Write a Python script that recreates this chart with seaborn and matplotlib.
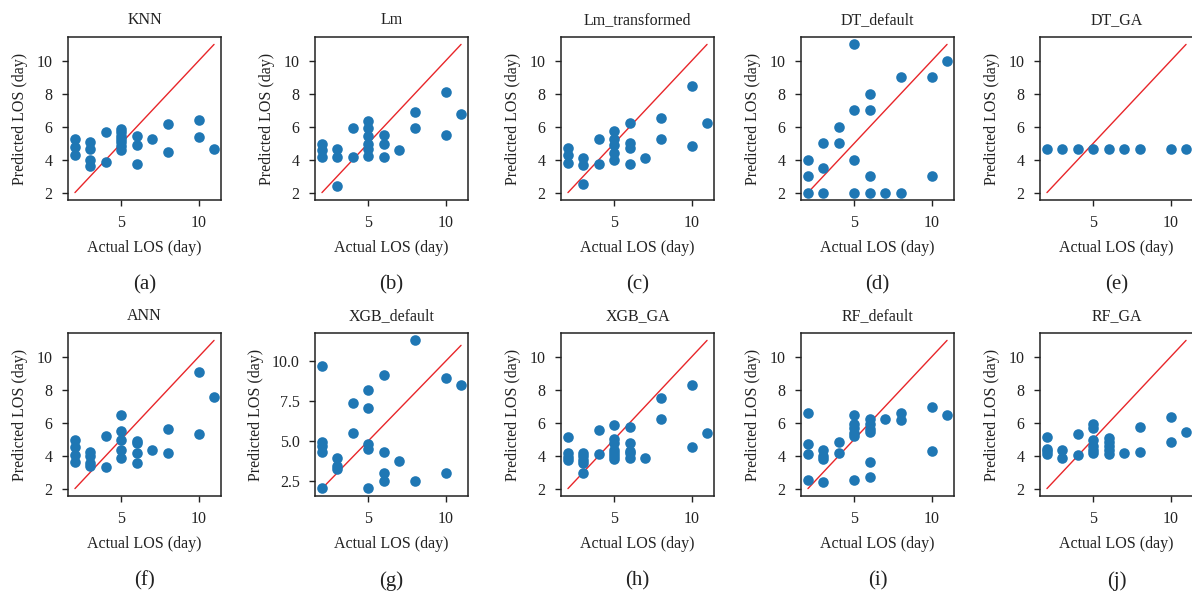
import matplotlib
matplotlib.use("Agg")
import matplotlib.pyplot as plt
import matplotlib.ticker as mticker
import seaborn as sns
import pandas as pd

# ---------------- data ----------------
knn_actual = [2, 2, 2, 3, 3, 3, 3, 4, 4, 5, 5, 5, 5, 5, 5, 5, 6, 6, 6, 7, 8, 8, 10, 10, 11]
knn_pred = [5.25, 4.75, 4.3, 5.1, 4.65, 4.0, 3.6, 5.65, 3.88, 5.85, 5.65, 5.45, 5.25, 5.05, 4.85, 4.6,
            5.43, 4.88, 3.73, 5.23, 6.15, 4.46, 6.4, 5.39, 4.62]

lm_actual = [2, 2, 2, 3, 3, 3, 4, 4, 5, 5, 5, 5, 5, 5, 6, 6, 6, 7, 8, 8, 10, 10, 11]
lm_pred = [4.98, 4.58, 4.16, 4.62, 4.16, 2.4, 5.93, 4.16, 6.37, 5.9, 5.43, 4.98, 4.62, 4.2,
           5.49, 4.96, 4.16, 4.58, 6.88, 5.9, 8.13, 5.47, 6.8]

lmt_actual = [2, 2, 2, 3, 3, 3, 4, 4, 5, 5, 5, 5, 5, 6, 6, 6, 6, 7, 8, 8, 10, 10, 11]
lmt_pred = [4.68, 4.26, 3.81, 4.12, 3.69, 2.5, 5.27, 3.71, 5.77, 5.23, 4.88, 4.42, 3.96,
            6.23, 5.02, 4.72, 3.71, 4.08, 6.5, 5.27, 8.45, 4.82, 6.23]

dtd_actual = [2, 2, 2, 3, 3, 3, 4, 4, 5, 5, 5, 5, 6, 6, 6, 6, 7, 8, 8, 10, 10, 11]
dtd_pred = [4, 3, 2, 5, 3.5, 2, 6, 5, 11, 7, 4, 2, 8, 7, 3, 2, 2, 9, 2, 9, 3, 10]

dtga_actual = [2, 3, 4, 5, 6, 7, 8, 10, 11]
dtga_pred = [4.65, 4.65, 4.65, 4.65, 4.65, 4.65, 4.65, 4.65, 4.65]

ann_actual = [2, 2, 2, 2, 3, 3, 3, 3, 4, 4, 5, 5, 5, 5, 5, 6, 6, 6, 6, 7, 8, 8, 10, 10, 11]
ann_pred = [4.98, 4.52, 4.07, 3.62, 4.21, 3.97, 3.56, 3.36, 5.18, 3.34, 6.46, 5.49, 4.98, 4.37, 3.85,
            4.92, 4.74, 4.17, 3.56, 4.35, 5.63, 4.19, 9.1, 5.29, 7.54]

xgbd_actual = [2, 2, 2, 2, 2, 3, 3, 3, 4, 4, 5, 5, 5, 5, 5, 6, 6, 6, 6, 7, 8, 8, 10, 10, 11]
xgbd_pred = [9.69, 4.9, 4.65, 4.27, 2.02, 3.92, 3.44, 3.23, 7.4, 5.52, 8.17, 7.04, 4.79, 4.48, 2.04,
             9.13, 4.27, 2.98, 2.5, 3.71, 11.31, 2.46, 8.94, 2.96, 8.5]

xgbga_actual = [2, 2, 2, 2, 3, 3, 3, 3, 3, 4, 4, 5, 5, 5, 5, 5, 5, 5, 6, 6, 6, 6, 6, 7, 8, 8, 10, 10, 11]
xgbga_pred = [5.12, 4.17, 3.91, 3.72, 4.17, 3.97, 3.72, 3.56, 2.95, 5.53, 4.11, 5.85, 5.02, 4.78, 4.37,
              4.17, 3.97, 3.81, 5.73, 4.78, 4.31, 4.17, 3.87, 3.85, 7.48, 6.2, 8.29, 4.52, 5.35]

rfd_actual = [2, 2, 2, 2, 3, 3, 3, 3, 4, 4, 5, 5, 5, 5, 5, 5, 6, 6, 6, 6, 6, 6, 7, 8, 8, 10, 10, 11]
rfd_pred = [6.6, 4.72, 4.11, 2.51, 4.37, 4.0, 3.8, 2.42, 4.84, 4.17, 6.5, 5.9, 5.66, 5.4, 5.2, 2.53,
            6.2, 5.94, 5.59, 5.45, 3.62, 2.69, 6.2, 6.62, 6.16, 6.96, 4.27, 6.5]

rfga_actual = [2, 2, 2, 2, 3, 3, 4, 4, 5, 5, 5, 5, 5, 5, 6, 6, 6, 6, 6, 7, 8, 8, 10, 10, 11]
rfga_pred = [5.12, 4.41, 4.27, 4.11, 4.33, 3.85, 5.33, 4.07, 5.9, 5.66, 4.98, 4.58, 4.33, 4.17,
             5.08, 4.84, 4.58, 4.37, 4.11, 4.17, 5.73, 4.25, 6.35, 4.84, 5.45]

models = ["KNN", "Lm", "Lm_transformed", "DT_default", "DT_GA",
          "ANN", "XGB_default", "XGB_GA", "RF_default", "RF_GA"]
letters = ["(a)", "(b)", "(c)", "(d)", "(e)", "(f)", "(g)", "(h)", "(i)", "(j)"]
series = [(knn_actual, knn_pred), (lm_actual, lm_pred), (lmt_actual, lmt_pred),
          (dtd_actual, dtd_pred), (dtga_actual, dtga_pred), (ann_actual, ann_pred),
          (xgbd_actual, xgbd_pred), (xgbga_actual, xgbga_pred), (rfd_actual, rfd_pred),
          (rfga_actual, rfga_pred)]

# ---------------- style ----------------
sns.set_style("ticks")
plt.rcParams["font.family"] = ["Liberation Serif", "DejaVu Serif"]
plt.rcParams["axes.edgecolor"] = "#222222"
plt.rcParams["axes.linewidth"] = 1.1
plt.rcParams["xtick.color"] = "#222222"
plt.rcParams["ytick.color"] = "#222222"
plt.rcParams["text.color"] = "#222222"
plt.rcParams["axes.labelcolor"] = "#222222"

W, H = 1192, 592
fig = plt.figure(figsize=(W / 100, H / 100), dpi=100)

lefts = [68, 315, 561, 801, 1040]
tops = [37, 333]
aw, ah = 153, 163

point_color = "#1f77b4"
line_color = "#e8262a"

for i, (name, letter, (xa, yp)) in enumerate(zip(models, letters, series)):
    r, c = divmod(i, 5)
    l = lefts[c]
    t = tops[r]
    ax = fig.add_axes([l / W, 1 - (t + ah) / H, aw / W, ah / H])
    df = pd.DataFrame({"actual": xa, "pred": yp})
    sns.scatterplot(data=df, x="actual", y="pred", ax=ax, color=point_color,
                    s=58, linewidth=0, zorder=3)
    lo, hi = min(xa), max(xa)
    ax.plot([lo, hi], [lo, hi], color=line_color, linewidth=1.0, zorder=2)
    for sp in ax.spines.values():
        sp.set_visible(True)
    ax.xaxis.set_major_locator(mticker.MultipleLocator(5))
    if name == "XGB_default":
        ax.yaxis.set_major_locator(mticker.MultipleLocator(2.5))
        ax.yaxis.set_major_formatter(mticker.FormatStrFormatter("%.1f"))
    else:
        ax.yaxis.set_major_locator(mticker.MultipleLocator(2))
    ax.tick_params(labelsize=11.5, length=4, width=1, pad=7)
    ax.set_xlabel("Actual LOS (day)", fontsize=11.5, labelpad=6)
    ax.set_ylabel("Predicted LOS (day)", fontsize=11.5, labelpad=6)
    ax.set_title(name, fontsize=11.5, pad=9)
    ax.text(0.5, -0.52, letter, transform=ax.transAxes, ha="center", va="center",
            fontsize=15)

fig.savefig("out.png", dpi=100)
